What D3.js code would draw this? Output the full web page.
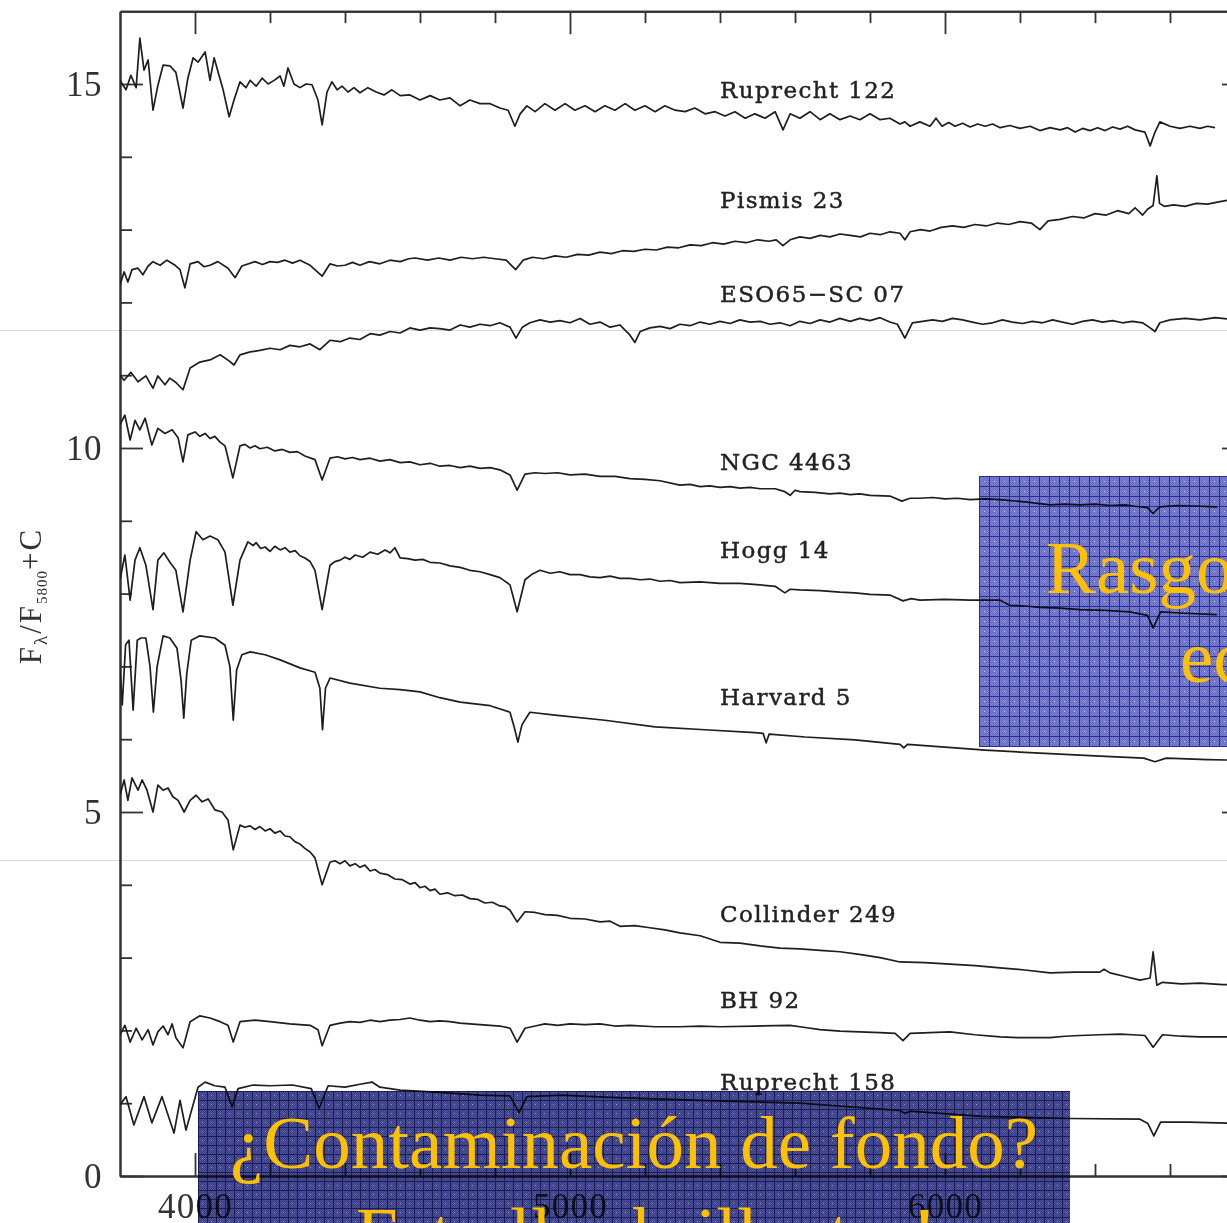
<!DOCTYPE html>
<html>
<head>
<meta charset="utf-8">
<script src="https://cdn.jsdelivr.net/npm/d3@7"></script>
<style>
  html, body { margin: 0; padding: 0; background: #fff; }
  svg { display: block; }
</style>
</head>
<body>
<svg id="chart" width="1227" height="1223"></svg>
<script>
// Integrated cluster spectra, normalised at 5800 Å plus a vertical offset C.
// Each spectrum is a list of [wavelength (Å), F_λ/F_5800 + C].

const clusterNames = ["Ruprecht 122", "Pismis 23", "ESO65−SC 07", "NGC 4463", "Hogg 14",
                      "Harvard 5", "Collinder 249", "BH 92", "Ruprecht 158"];

const ruprecht122 = [[3800,15.05],[3816,14.92],[3829,15.12],[3843,14.95],[3853,15.63],[3864,15.19],[3875,15.33],[3888,14.64],[3901,14.98],[3915,15.26],[3933,15.25],[3949,15.16],[3968,14.67],[3981,15.08],[3995,15.36],[4008,15.30],[4027,15.44],[4040,15.05],[4051,15.36],[4064,15.12],[4075,14.92],[4091,14.55],[4104,14.78],[4120,15.03],[4136,14.95],[4147,15.05],[4163,14.97],[4179,15.08],[4195,15.00],[4211,15.05],[4227,15.11],[4237,14.97],[4248,15.22],[4264,15.00],[4280,14.95],[4296,15.00],[4312,14.99],[4328,14.78],[4339,14.44],[4352,14.89],[4365,15.03],[4379,14.92],[4392,14.97],[4408,14.89],[4424,14.95],[4440,14.88],[4461,14.95],[4483,14.89],[4504,14.85],[4525,14.92],[4547,14.84],[4573,14.85],[4600,14.78],[4627,14.84],[4653,14.78],[4680,14.81],[4707,14.70],[4733,14.78],[4760,14.73],[4787,14.73],[4813,14.67],[4835,14.64],[4853,14.42],[4867,14.59],[4885,14.70],[4907,14.62],[4933,14.73],[4960,14.64],[4987,14.73],[5013,14.64],[5040,14.70],[5067,14.62],[5093,14.70],[5120,14.64],[5147,14.73],[5173,14.64],[5200,14.70],[5227,14.62],[5253,14.70],[5280,14.64],[5307,14.62],[5333,14.67],[5360,14.59],[5387,14.62],[5413,14.56],[5440,14.62],[5467,14.53],[5493,14.59],[5520,14.53],[5547,14.62],[5568,14.37],[5587,14.59],[5613,14.53],[5640,14.62],[5667,14.51],[5693,14.59],[5720,14.51],[5747,14.56],[5773,14.51],[5800,14.59],[5827,14.51],[5853,14.53],[5880,14.45],[5893,14.48],[5907,14.42],[5933,14.48],[5960,14.42],[5976,14.53],[5992,14.42],[6010,14.47],[6027,14.42],[6047,14.46],[6067,14.41],[6087,14.45],[6107,14.42],[6127,14.45],[6147,14.40],[6173,14.43],[6200,14.39],[6227,14.42],[6253,14.36],[6280,14.40],[6307,14.37],[6327,14.40],[6347,14.34],[6367,14.39],[6387,14.36],[6407,14.40],[6427,14.36],[6447,14.41],[6467,14.38],[6487,14.42],[6507,14.37],[6533,14.34],[6547,14.15],[6560,14.34],[6573,14.48],[6600,14.42],[6627,14.39],[6653,14.42],[6680,14.39],[6700,14.42],[6720,14.40]];

const pismis23 = [[3800,12.24],[3811,12.42],[3821,12.28],[3832,12.45],[3848,12.47],[3861,12.38],[3875,12.50],[3888,12.56],[3907,12.51],[3925,12.58],[3947,12.51],[3960,12.45],[3973,12.20],[3987,12.53],[4008,12.56],[4024,12.49],[4040,12.51],[4061,12.56],[4088,12.47],[4107,12.34],[4125,12.50],[4160,12.56],[4180,12.52],[4200,12.56],[4220,12.55],[4240,12.58],[4260,12.54],[4280,12.58],[4307,12.51],[4339,12.36],[4360,12.53],[4380,12.50],[4400,12.51],[4420,12.55],[4440,12.51],[4465,12.56],[4493,12.53],[4520,12.58],[4547,12.56],[4570,12.60],[4587,12.61],[4620,12.58],[4650,12.61],[4680,12.58],[4710,12.62],[4740,12.60],[4770,12.62],[4800,12.60],[4830,12.58],[4855,12.45],[4875,12.58],[4900,12.62],[4930,12.60],[4960,12.64],[4990,12.62],[5020,12.66],[5050,12.65],[5080,12.69],[5110,12.67],[5140,12.71],[5170,12.70],[5200,12.73],[5230,12.72],[5260,12.76],[5290,12.75],[5320,12.79],[5350,12.78],[5380,12.82],[5410,12.80],[5440,12.84],[5470,12.82],[5500,12.86],[5530,12.84],[5550,12.86],[5568,12.78],[5587,12.86],[5613,12.90],[5640,12.88],[5667,12.92],[5693,12.90],[5720,12.94],[5747,12.92],[5775,12.90],[5800,12.95],[5827,12.93],[5853,12.97],[5880,12.95],[5893,12.86],[5907,12.97],[5935,13.00],[5960,12.98],[5990,13.03],[6020,13.05],[6050,13.03],[6080,13.07],[6110,13.05],[6140,13.09],[6170,13.07],[6200,13.11],[6230,13.09],[6253,13.00],[6275,13.12],[6307,13.14],[6340,13.18],[6370,13.16],[6400,13.22],[6430,13.20],[6460,13.26],[6490,13.22],[6507,13.30],[6527,13.20],[6540,13.28],[6555,13.33],[6565,13.74],[6572,13.36],[6585,13.32],[6610,13.34],[6640,13.32],[6670,13.36],[6700,13.35],[6730,13.38],[6760,13.41],[6790,13.42]];

const eso65sc07 = [[3800,11.00],[3811,10.93],[3829,11.04],[3848,10.91],[3869,10.99],[3888,10.82],[3901,10.99],[3920,10.87],[3933,10.96],[3949,10.90],[3968,10.80],[3987,11.10],[4013,11.18],[4040,11.21],[4067,11.28],[4090,11.20],[4104,11.14],[4120,11.28],[4147,11.32],[4173,11.34],[4200,11.37],[4227,11.35],[4253,11.41],[4280,11.39],[4307,11.43],[4333,11.35],[4360,11.48],[4387,11.46],[4413,11.51],[4440,11.49],[4467,11.57],[4493,11.55],[4520,11.60],[4547,11.58],[4573,11.65],[4600,11.62],[4627,11.65],[4653,11.64],[4680,11.62],[4707,11.69],[4733,11.66],[4760,11.70],[4787,11.68],[4813,11.72],[4840,11.66],[4856,11.51],[4873,11.66],[4893,11.72],[4920,11.76],[4947,11.73],[4973,11.75],[5000,11.72],[5027,11.78],[5053,11.70],[5080,11.73],[5107,11.66],[5133,11.69],[5160,11.55],[5173,11.45],[5187,11.60],[5213,11.65],[5240,11.67],[5267,11.64],[5293,11.70],[5320,11.68],[5347,11.73],[5373,11.70],[5400,11.74],[5427,11.71],[5453,11.76],[5480,11.73],[5507,11.74],[5533,11.70],[5560,11.72],[5587,11.68],[5613,11.74],[5640,11.71],[5667,11.76],[5693,11.73],[5720,11.78],[5747,11.74],[5773,11.78],[5800,11.75],[5827,11.79],[5853,11.73],[5873,11.70],[5893,11.51],[5913,11.72],[5940,11.74],[5967,11.76],[5993,11.74],[6020,11.78],[6047,11.76],[6073,11.73],[6100,11.70],[6127,11.72],[6153,11.76],[6180,11.73],[6207,11.71],[6233,11.74],[6260,11.72],[6287,11.76],[6313,11.73],[6340,11.70],[6367,11.74],[6393,11.76],[6420,11.73],[6447,11.75],[6473,11.72],[6500,11.74],[6527,11.72],[6547,11.65],[6560,11.60],[6573,11.72],[6600,11.76],[6640,11.78],[6680,11.76],[6720,11.79],[6760,11.77],[6790,11.76]];

const ngc4463 = [[3800,10.32],[3813,10.45],[3827,10.11],[3840,10.38],[3853,10.25],[3867,10.41],[3885,10.04],[3901,10.27],[3920,10.20],[3939,10.25],[3955,10.14],[3968,9.81],[3981,10.18],[4000,10.22],[4013,10.16],[4027,10.20],[4040,10.13],[4053,10.16],[4067,10.08],[4080,10.03],[4101,9.59],[4120,10.03],[4133,10.05],[4147,10.00],[4160,10.03],[4173,9.99],[4193,10.01],[4213,9.96],[4233,9.98],[4253,9.94],[4273,9.95],[4293,9.89],[4320,9.84],[4339,9.56],[4360,9.86],[4380,9.88],[4400,9.85],[4420,9.87],[4440,9.84],[4467,9.86],[4493,9.82],[4520,9.84],[4547,9.80],[4573,9.81],[4600,9.77],[4627,9.79],[4653,9.75],[4680,9.76],[4707,9.73],[4733,9.75],[4760,9.72],[4787,9.73],[4813,9.70],[4840,9.63],[4859,9.42],[4880,9.64],[4907,9.66],[4933,9.65],[4967,9.66],[5000,9.63],[5040,9.64],[5080,9.61],[5120,9.61],[5160,9.58],[5200,9.57],[5240,9.55],[5293,9.49],[5320,9.50],[5347,9.47],[5373,9.48],[5400,9.46],[5427,9.47],[5453,9.45],[5480,9.46],[5507,9.44],[5547,9.44],[5573,9.40],[5587,9.35],[5600,9.42],[5613,9.40],[5653,9.39],[5693,9.37],[5720,9.38],[5747,9.36],[5773,9.37],[5800,9.35],[5853,9.34],[5885,9.27],[5907,9.31],[5933,9.31],[5967,9.32],[6000,9.30],[6033,9.31],[6067,9.29],[6107,9.30],[6147,9.29],[6213,9.26],[6280,9.22],[6320,9.23],[6360,9.22],[6400,9.23],[6440,9.21],[6480,9.22],[6507,9.20],[6540,9.18],[6555,9.10],[6572,9.19],[6620,9.21],[6680,9.20],[6725,9.19]];

const hogg14 = [[3800,8.19],[3813,8.53],[3827,7.91],[3840,8.46],[3853,8.63],[3869,8.39],[3888,7.78],[3901,8.46],[3917,8.56],[3933,8.43],[3949,8.32],[3968,7.75],[3987,8.46],[4003,8.85],[4021,8.74],[4040,8.79],[4061,8.74],[4080,8.57],[4101,7.84],[4120,8.46],[4141,8.71],[4155,8.66],[4163,8.70],[4175,8.62],[4187,8.64],[4200,8.58],[4213,8.65],[4227,8.60],[4240,8.63],[4253,8.57],[4267,8.59],[4280,8.52],[4293,8.49],[4307,8.44],[4320,8.32],[4339,7.78],[4360,8.39],[4373,8.44],[4387,8.46],[4400,8.50],[4413,8.47],[4427,8.53],[4447,8.50],[4467,8.57],[4487,8.54],[4507,8.60],[4520,8.56],[4533,8.63],[4547,8.49],[4567,8.48],[4587,8.46],[4607,8.47],[4627,8.43],[4653,8.42],[4680,8.38],[4707,8.36],[4733,8.32],[4760,8.30],[4787,8.26],[4813,8.22],[4840,8.12],[4859,7.75],[4880,8.19],[4900,8.27],[4920,8.32],[4947,8.28],[4973,8.30],[5000,8.26],[5027,8.26],[5053,8.23],[5080,8.22],[5107,8.24],[5133,8.21],[5160,8.21],[5187,8.19],[5213,8.20],[5240,8.17],[5267,8.18],[5293,8.15],[5347,8.16],[5400,8.14],[5453,8.14],[5507,8.12],[5547,8.10],[5573,8.01],[5587,8.06],[5613,8.05],[5667,8.04],[5720,8.02],[5760,8.01],[5800,7.99],[5853,7.98],[5888,7.90],[5910,7.93],[5933,7.91],[6000,7.92],[6067,7.91],[6147,7.91],[6173,7.84],[6213,7.83],[6253,7.81],[6307,7.80],[6360,7.78],[6427,7.77],[6493,7.75],[6540,7.70],[6555,7.53],[6575,7.75],[6640,7.73],[6725,7.71]];

const harvard5 = [[3800,6.95],[3806,6.47],[3815,7.30],[3824,7.36],[3835,6.40],[3846,7.36],[3856,7.39],[3869,7.39],[3880,7.00],[3889,6.37],[3899,7.00],[3915,7.42],[3933,7.39],[3952,7.25],[3963,6.80],[3970,6.29],[3978,6.90],[3990,7.36],[4013,7.42],[4053,7.39],[4080,7.29],[4093,7.00],[4102,6.26],[4111,6.95],[4125,7.16],[4147,7.20],[4187,7.16],[4227,7.09],[4280,6.98],[4320,6.92],[4333,6.70],[4340,6.13],[4348,6.70],[4360,6.84],[4413,6.77],[4493,6.70],[4547,6.68],[4600,6.65],[4653,6.57],[4707,6.51],[4787,6.46],[4840,6.37],[4852,6.15],[4861,5.96],[4872,6.20],[4893,6.37],[4960,6.33],[5093,6.26],[5227,6.17],[5360,6.13],[5493,6.09],[5515,6.08],[5523,5.95],[5531,6.07],[5627,6.03],[5760,5.99],[5880,5.93],[5890,5.88],[5900,5.93],[6027,5.88],[6107,5.85],[6213,5.82],[6400,5.77],[6530,5.74],[6560,5.69],[6590,5.74],[6700,5.72],[6790,5.71]];

const collinder249 = [[3800,5.23],[3811,5.44],[3821,5.16],[3832,5.47],[3848,5.30],[3859,5.44],[3872,5.30],[3888,5.00],[3901,5.37],[3915,5.30],[3928,5.33],[3941,5.21],[3955,5.16],[3971,5.00],[3987,5.16],[4003,5.23],[4019,5.14],[4035,5.18],[4053,5.03],[4072,5.00],[4088,4.89],[4102,4.48],[4120,4.82],[4133,4.79],[4147,4.81],[4160,4.76],[4173,4.80],[4187,4.74],[4200,4.77],[4213,4.71],[4227,4.74],[4240,4.67],[4253,4.66],[4267,4.59],[4280,4.56],[4293,4.50],[4307,4.45],[4320,4.37],[4339,4.00],[4360,4.31],[4373,4.33],[4387,4.29],[4400,4.33],[4413,4.26],[4427,4.29],[4440,4.24],[4453,4.27],[4467,4.19],[4480,4.21],[4493,4.16],[4513,4.14],[4533,4.08],[4553,4.07],[4573,4.01],[4587,4.03],[4600,3.96],[4613,3.98],[4627,3.92],[4640,3.94],[4653,3.87],[4673,3.89],[4693,3.85],[4713,3.86],[4733,3.81],[4753,3.80],[4773,3.75],[4793,3.76],[4813,3.71],[4827,3.70],[4840,3.65],[4859,3.49],[4880,3.63],[4907,3.62],[4933,3.59],[4967,3.58],[5000,3.54],[5040,3.53],[5080,3.49],[5107,3.50],[5133,3.43],[5173,3.44],[5213,3.41],[5253,3.38],[5293,3.34],[5347,3.30],[5400,3.21],[5453,3.20],[5507,3.16],[5560,3.13],[5613,3.12],[5667,3.10],[5720,3.08],[5776,3.04],[5827,3.00],[5880,2.94],[5947,2.93],[6013,2.91],[6080,2.89],[6147,2.86],[6213,2.83],[6280,2.79],[6347,2.80],[6413,2.80],[6424,2.84],[6440,2.79],[6480,2.74],[6520,2.69],[6547,2.72],[6555,3.08],[6565,2.62],[6580,2.66],[6630,2.64],[6680,2.65],[6740,2.63],[6790,2.63]];

const bh92 = [[3800,1.94],[3813,2.07],[3827,1.84],[3843,2.03],[3859,1.87],[3875,2.01],[3888,1.80],[3901,1.98],[3915,2.06],[3928,1.94],[3939,2.09],[3949,1.90],[3968,1.76],[3987,2.12],[4013,2.20],[4040,2.17],[4067,2.12],[4088,2.07],[4102,1.84],[4120,2.12],[4160,2.14],[4200,2.12],[4253,2.09],[4307,2.07],[4328,2.01],[4339,1.79],[4360,2.07],[4387,2.10],[4413,2.12],[4440,2.11],[4467,2.14],[4493,2.12],[4520,2.14],[4547,2.15],[4573,2.17],[4600,2.14],[4627,2.12],[4653,2.13],[4680,2.12],[4707,2.10],[4733,2.09],[4760,2.08],[4787,2.07],[4813,2.06],[4840,2.03],[4859,1.84],[4880,2.03],[4907,2.06],[4933,2.09],[4967,2.07],[5000,2.09],[5040,2.08],[5080,2.09],[5120,2.06],[5160,2.07],[5227,2.05],[5293,2.05],[5347,2.06],[5400,2.05],[5493,2.06],[5587,2.07],[5627,2.04],[5667,2.01],[5720,1.99],[5773,1.98],[5827,1.97],[5867,1.96],[5888,1.86],[5907,1.96],[5960,1.97],[6013,1.98],[6080,1.94],[6147,1.91],[6200,1.90],[6280,1.90],[6320,1.92],[6360,1.93],[6413,1.94],[6467,1.95],[6500,1.94],[6533,1.93],[6555,1.77],[6580,1.94],[6630,1.92],[6680,1.91],[6790,1.91]];

const ruprecht158 = [[3800,0.98],[3816,1.09],[3837,0.70],[3864,1.09],[3885,0.73],[3912,1.09],[3944,0.59],[3960,1.04],[3976,0.63],[4008,1.22],[4027,1.29],[4053,1.24],[4080,1.22],[4099,0.95],[4115,1.20],[4155,1.25],[4200,1.24],[4260,1.25],[4310,1.20],[4331,0.93],[4355,1.24],[4400,1.22],[4440,1.26],[4472,1.29],[4493,1.22],[4547,1.18],[4653,1.15],[4760,1.11],[4840,1.10],[4864,0.87],[4885,1.09],[4979,1.11],[5107,1.08],[5347,1.04],[5613,1.00],[5880,0.90],[5893,0.86],[5907,0.89],[6100,0.82],[6333,0.79],[6520,0.78],[6541,0.72],[6557,0.55],[6575,0.74],[6650,0.74],[6790,0.72]];

const spectra = [ruprecht122, pismis23, eso65sc07, ngc4463, hogg14, harvard5, collinder249, bh92, ruprecht158];

// Where each name sits: baseline level in flux units, all starting at the same wavelength.
const labelFlux = [14.81, 13.30, 12.01, 9.70, 8.49, 6.47, 3.49, 2.31, 1.18];
const labelWavelength = 5400;

const xDomain = [3800, 6800];
const yDomain = [0, 16];
const xMajorTicks = [4000, 5000, 6000];
const xMinorTicks = [4200, 4400, 4600, 4800, 5200, 5400, 5600, 5800, 6200, 6400, 6600];
const yMajorTicks = [0, 5, 10, 15];
const yMinorTicks = [1, 2, 3, 4, 6, 7, 8, 9, 11, 12, 13, 14];

// Overlay captions
const noteTopLines = ["Rasgos de emisión", "ecos del gas"];
const noteBottomLines = ["¿Contaminación de fondo?", "¡Estrellas brillantes!"];

// ---------------------------------------------------------------------------
const svg = d3.select("#chart");
const W = 1227, H = 1223;
const plot = { left: 120, right: 1245, top: 11.2, bottom: 1176 };

const x = d3.scaleLinear().domain(xDomain).range([plot.left, plot.right]);
const y = d3.scaleLinear().domain(yDomain).range([plot.bottom, plot.top]);

svg.append("rect").attr("width", W).attr("height", H).attr("fill", "#fff");

// faint guide rules running across the page
svg.append("g").selectAll("line").data([330.5, 860.5]).join("line")
  .attr("x1", 0).attr("x2", W).attr("y1", d => d).attr("y2", d => d)
  .attr("stroke", "#d8d8d8").attr("stroke-width", 1);

const defs = svg.append("defs");
defs.append("clipPath").attr("id", "plotClip")
  .append("rect").attr("x", plot.left).attr("y", plot.top)
  .attr("width", plot.right - plot.left).attr("height", plot.bottom - plot.top);

// ---- axes ----
const axisColor = "#333";
function styleAxis(g) {
  g.selectAll(".domain").attr("stroke", axisColor).attr("stroke-width", 2);
  g.selectAll(".tick line").attr("stroke", axisColor).attr("stroke-width", 1.8);
  g.selectAll("text").attr("fill", "#333")
    .attr("font-family", "'Liberation Serif', 'Times New Roman', serif")
    .attr("font-size", 35).attr("letter-spacing", "1.2px");
}

// bottom
svg.append("g").attr("transform", `translate(0,${plot.bottom})`)
  .call(d3.axisBottom(x).tickValues(xMinorTicks).tickSizeInner(-12).tickSizeOuter(0).tickFormat(""))
  .call(styleAxis);
const bottomMajor = svg.append("g").attr("transform", `translate(0,${plot.bottom})`)
  .call(d3.axisBottom(x).tickValues(xMajorTicks).tickSizeInner(-23).tickSizeOuter(0)
        .tickFormat(d3.format("d")))
  .call(styleAxis);
bottomMajor.selectAll("text").attr("y", 42).attr("dy", 0);

// top
svg.append("g").attr("transform", `translate(0,${plot.top})`)
  .call(d3.axisTop(x).tickValues(xMinorTicks).tickSizeInner(-12).tickSizeOuter(0).tickFormat(""))
  .call(styleAxis);
svg.append("g").attr("transform", `translate(0,${plot.top})`)
  .call(d3.axisTop(x).tickValues(xMajorTicks).tickSizeInner(-23).tickSizeOuter(0).tickFormat(""))
  .call(styleAxis);

// left
svg.append("g").attr("transform", `translate(${plot.left},0)`)
  .call(d3.axisLeft(y).tickValues(yMinorTicks).tickSizeInner(-12).tickSizeOuter(0).tickFormat(""))
  .call(styleAxis);
const leftMajor = svg.append("g").attr("transform", `translate(${plot.left},0)`)
  .call(d3.axisLeft(y).tickValues(yMajorTicks).tickSizeInner(-23).tickSizeOuter(0).tickPadding(18)
        .tickFormat(d3.format("d")))
  .call(styleAxis);
leftMajor.selectAll("text").attr("dy", "0.33em").attr("letter-spacing", "0.5px");

// right
svg.append("g").attr("transform", `translate(${plot.right},0)`)
  .call(d3.axisRight(y).tickValues(yMinorTicks).tickSizeInner(-12).tickSizeOuter(0).tickFormat(""))
  .call(styleAxis);
svg.append("g").attr("transform", `translate(${plot.right},0)`)
  .call(d3.axisRight(y).tickValues(yMajorTicks).tickSizeInner(-23).tickSizeOuter(0).tickFormat(""))
  .call(styleAxis);

// y-axis title: F_λ / F_5800 + C
const yTitle = svg.append("text")
  .attr("transform", `translate(41,596) rotate(-90)`)
  .attr("text-anchor", "middle")
  .attr("font-family", "'Liberation Serif', 'Times New Roman', serif")
  .attr("font-size", 31).attr("fill", "#333").attr("letter-spacing", "2px");
yTitle.append("tspan").text("F");
yTitle.append("tspan").attr("font-size", 19).attr("dy", 6).text("λ");
yTitle.append("tspan").attr("dy", -6).text("/F");
yTitle.append("tspan").attr("font-size", 15).attr("dy", 6).attr("letter-spacing", "1px").text("5800");
yTitle.append("tspan").attr("dy", -6).text("+C");

// ---- spectra ----
const line = d3.line().x(d => x(d[0])).y(d => y(d[1]));
svg.append("g").attr("clip-path", "url(#plotClip)")
  .selectAll("path").data(spectra).join("path")
  .attr("d", line)
  .attr("fill", "none").attr("stroke", "#1e1e1e").attr("stroke-width", 1.7)
  .attr("stroke-linejoin", "round");

svg.append("g").selectAll("text").data(clusterNames).join("text")
  .attr("x", x(labelWavelength))
  .attr("y", (d, i) => y(labelFlux[i]))
  .attr("font-family", "'DejaVu Serif', serif")
  .attr("font-size", 23).attr("letter-spacing", "1.4px").attr("fill", "#222")
  .attr("stroke", "#222").attr("stroke-width", 0.45)
  .text(d => d);

// ---- overlay notes: hatched translucent panels with captions ----
function gridPattern(id, cell, base, tint, rule, dot, ox, oy) {
  const chk = defs.append("pattern").attr("id", id + "-chk")
    .attr("patternUnits", "userSpaceOnUse").attr("width", 2).attr("height", 2);
  chk.append("rect").attr("width", 2).attr("height", 2).attr("fill", base);
  chk.append("rect").attr("width", 1).attr("height", 1).attr("fill", tint);
  chk.append("rect").attr("x", 1).attr("y", 1).attr("width", 1).attr("height", 1).attr("fill", tint);
  const p = defs.append("pattern").attr("id", id)
    .attr("patternUnits", "userSpaceOnUse").attr("x", ox).attr("y", oy)
    .attr("width", cell).attr("height", cell);
  p.append("rect").attr("width", cell).attr("height", cell).attr("fill", `url(#${id}-chk)`);
  p.append("rect").attr("width", cell).attr("height", 1).attr("fill", rule);
  p.append("rect").attr("width", 1).attr("height", cell).attr("fill", rule);
  p.append("rect").attr("x", Math.floor(cell / 2)).attr("y", Math.floor(cell / 2))
    .attr("width", 1).attr("height", 1).attr("fill", dot);
}
gridPattern("gridLight", 10, "#656bc2", "#7d83d2", "#2a2c96", "#d6d9fb", 979, 476);
gridPattern("gridDark", 9, "#383c84", "#4f539a", "#1a1c5a", "#9da1cf", 198, 1091);

const panels = [
  { x: 979, y: 476, w: 400, h: 271, fill: "url(#gridLight)" },
  { x: 198, y: 1091, w: 872, h: 200, fill: "url(#gridDark)" }
];
svg.append("g").selectAll("rect").data(panels).join("rect")
  .attr("x", d => d.x).attr("y", d => d.y).attr("width", d => d.w).attr("height", d => d.h)
  .attr("fill", d => d.fill).style("mix-blend-mode", "multiply");

const captionFont = "'Liberation Serif', 'Times New Roman', serif";
const gold = "#FFC000";

svg.append("g").selectAll("text").data(noteTopLines).join("text")
  .attr("x", (d, i) => i === 0 ? 1046 : 1180)
  .attr("y", (d, i) => i === 0 ? 593 : 682)
  .attr("font-family", captionFont).attr("font-size", 75).attr("fill", gold)
  .text(d => d);

svg.append("g").selectAll("text").data(noteBottomLines).join("text")
  .attr("x", 634)
  .attr("y", (d, i) => 1168 + i * 91)
  .attr("text-anchor", "middle")
  .attr("font-family", captionFont).attr("font-size", 75).attr("fill", gold)
  .text(d => d);
</script>
</body>
</html>
